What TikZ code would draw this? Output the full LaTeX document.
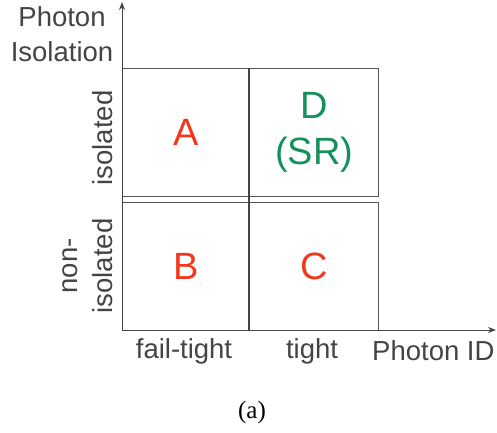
\documentclass[tikz,border=0pt]{standalone}
\usepackage{fontspec}
\newfontfamily\lab{Liberation Sans}
\newfontfamily\capfont{Liberation Serif}
\usetikzlibrary{arrows.meta}
\definecolor{axgray}{HTML}{444444}
\definecolor{boxgray}{HTML}{555555}
\definecolor{regred}{HTML}{F2381C}
\definecolor{reggreen}{HTML}{16905A}
\begin{document}
\begin{tikzpicture}[x=1pt,y=-1pt,
  region/.style={draw=boxgray, line width=1.2pt, inner sep=0pt, anchor=north west,
    minimum height=128pt, font=\lab\fontsize{38}{46}\selectfont, align=center},
  axislabel/.style={text=axgray, inner sep=0pt, font=\lab\fontsize{27.5}{35}\selectfont, align=center},
  axisline/.style={draw=axgray, line width=1pt, -{Stealth[length=8pt,width=6pt]}}]
\useasboundingbox (0,0) rectangle (497,432);
% regions
\node[region, minimum width=127pt, text=regred] (A) at (122,68) {A};
\node[region, minimum width=129pt, text=reggreen] (D) at (249,68) {D\\(SR)};
\node[region, minimum width=127pt, text=regred] (B) at (122,202) {B};
\node[region, minimum width=129pt, text=regred] (C) at (249,202) {C};
\draw[draw=axgray, line width=2pt] (D.north west) -- (C.south west);
% axes
\coordinate (O) at (122,330);
\coordinate (xend) at (496,330);
\coordinate (yend) at (122,2);
\draw[axisline] (O) -- (xend);
\draw[axisline] (O) -- (yend);
% labels
\node[axislabel] (ytitle) at (62,34) {Photon\\Isolation};
\node[axislabel, anchor=base west] (xtitle) at (372,360) {Photon ID};
\node[axislabel, anchor=base] (failtight) at (184,358) {fail-tight};
\node[axislabel, anchor=base] (tight) at (312,358) {tight};
\node[axislabel, rotate=90] (iso) at (103,138) {isolated};
\node[axislabel, rotate=90] (noniso) at (88,266) {non-\\isolated};
\node[font=\capfont\fontsize{25}{28}\selectfont, anchor=base, inner sep=0pt] (cap) at (252,418) {(a)};
\end{tikzpicture}
\end{document}
